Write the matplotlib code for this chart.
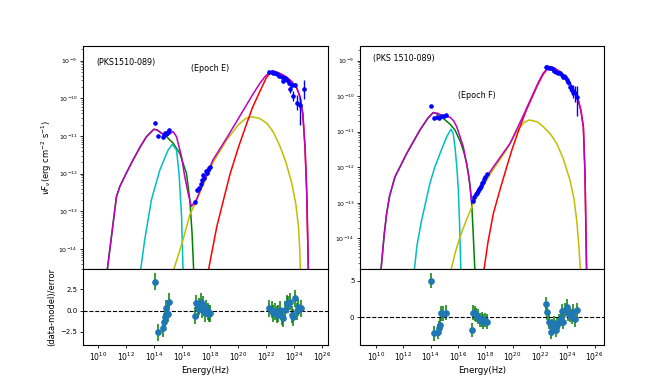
import numpy as np
import matplotlib
matplotlib.use("Agg")
import matplotlib.pyplot as plt
from matplotlib.ticker import NullLocator, LogLocator


####    dane: epoka E (lewy panel), log10 nu [Hz], log10 nuFnu    ####
magE_x = [10.62, 11.29, 11.53, 12.0, 12.48, 13.0, 13.43, 13.96, 14.2, 14.5, 14.98, 15.34, 15.58,
          15.94, 16.17, 16.41, 16.64, 17.0, 17.48, 18.19, 19.17, 20.36, 21.07, 21.5, 21.9, 22.26,
          22.5, 22.8, 23.1, 23.46, 23.8, 24.17, 24.4, 24.6, 24.76, 24.88, 25.0]
magE_y = [-14.6, -12.61, -12.34, -11.98, -11.63, -11.28, -11.02, -10.82, -10.84, -10.93, -10.97,
          -10.88, -11.02, -11.55, -12.08, -12.52, -12.87, -12.69, -12.25, -11.63, -11.05, -10.31,
          -9.87, -9.62, -9.42, -9.30, -9.27, -9.31, -9.36, -9.44, -9.55, -9.72, -9.95, -10.4,
          -11.3, -12.5, -14.6]
grnE_x = [10.62, 11.29, 11.53, 12.0, 12.48, 13.0, 13.43, 13.96, 14.2, 14.5, 14.74, 15.34, 15.81,
          16.29, 16.53, 16.69, 16.81]
grnE_y = [-14.6, -12.61, -12.34, -11.98, -11.63, -11.28, -11.02, -10.82, -10.84, -10.92, -10.97,
          -11.19, -11.46, -11.99, -12.69, -13.58, -14.6]
cyaE_x = [13.0, 13.31, 13.79, 14.39, 14.98, 15.29, 15.58, 15.76, 15.94, 16.05]
cyaE_y = [-14.6, -13.75, -12.69, -11.90, -11.37, -11.22, -11.37, -11.99, -13.13, -14.6]
yelE_x = [15.34, 16.05, 16.53, 17.0, 17.48, 18.19, 19.17, 20.0, 20.5, 20.96, 21.5, 22.03, 22.5,
          22.98, 23.4, 23.81, 24.1, 24.29, 24.38, 24.43]
yelE_y = [-14.6, -13.75, -13.09, -12.72, -12.3, -11.7, -11.1, -10.7, -10.54, -10.49, -10.53,
          -10.66, -10.9, -11.28, -11.7, -12.25, -12.8, -13.4, -14.0, -14.6]
redE_x = [17.84, 18.46, 19.0, 19.41, 20.0, 20.6, 21.0, 21.55, 22.0, 22.26, 22.5, 22.8, 23.1,
          23.46, 23.8, 24.17, 24.4, 24.6, 24.76, 24.88, 25.0]
redE_y = [-14.6, -13.40, -12.6, -12.0, -11.3, -10.66, -10.25, -9.8, -9.45, -9.33, -9.29, -9.32,
          -9.37, -9.45, -9.56, -9.73, -9.96, -10.41, -11.31, -12.5, -14.6]

# punkty pomiarowe E
datE_x = [14.05, 14.29, 14.6, 14.69, 14.76, 14.84, 14.88, 15.0, 15.07,
          16.91, 17.07, 17.21, 17.31, 17.43, 17.50, 17.57, 17.67, 17.74, 17.81, 17.91, 17.98,
          22.21, 22.39, 22.5, 22.62, 22.79, 22.93, 23.1, 23.21, 23.34, 23.46, 23.58, 23.69,
          23.81, 23.93, 24.05, 24.17, 24.41, 24.69]
datE_y = [-10.66, -11.0, -11.02, -10.97, -10.93, -10.95, -10.91, -10.90, -10.84,
          -12.76, -12.43, -12.38, -12.27, -12.16, -12.03, -12.12, -11.94, -11.99, -11.90, -11.85, -11.81,
          -9.31, -9.30, -9.32, -9.33, -9.36, -9.40, -9.42, -9.53, -9.47, -9.51, -9.58, -9.76,
          -9.64, -9.94, -9.64, -10.11, -10.18, -9.76]
errE_lo = [0.0] * 9 + [0.05] * 12 + [0.03] * 10 + [0.06, 0.1, 0.06, 0.13, 0.06, 0.2, 0.53, 0.25]
errE_hi = [0.0] * 9 + [0.05] * 12 + [0.03] * 10 + [0.06, 0.1, 0.06, 0.13, 0.06, 0.2, 0.22, 0.25]

# residua E
resE_x = [14.05, 14.29, 14.6, 14.69, 14.76, 14.84, 14.88, 15.0, 15.07,
          16.91, 17.0, 17.1, 17.2, 17.3, 17.4, 17.5, 17.6, 17.7, 17.8, 17.9, 18.0,
          22.21, 22.38, 22.5, 22.62, 22.74, 22.86, 22.98, 23.1, 23.21, 23.33, 23.45, 23.57,
          23.69, 23.81, 23.93, 24.05, 24.17, 24.29, 24.48]
resE_y = [3.42, -2.55, -2.08, -1.30, -0.78, 0.28, -0.31, -0.40, 1.06,
          -0.63, 0.87, 0.16, 0.47, 1.06, 0.08, 0.67, -0.31, 0.28, -0.12, -0.39, -0.31,
          0.28, 0.08, -0.3, -0.12, -0.5, -0.3, 0.1, -0.7, -0.9, 0.1, 0.87, 0.7,
          1.06, -0.5, -0.8, 1.45, -0.1, 0.4, 0.28]

####    dane: epoka F (prawy panel)    ####
magF_x = [10.34, 10.6, 10.78, 11.0, 11.39, 12.25, 13.22, 13.8, 14.19, 14.5, 14.93, 15.42, 15.7,
          15.91, 16.39, 16.76, 16.9, 17.0, 17.2, 17.61, 18.59, 19.81, 20.78, 21.52, 21.9, 22.25,
          22.55, 22.79, 23.1, 23.47, 23.85, 24.2, 24.55, 24.81, 25.0, 25.18, 25.30, 25.42]
magF_y = [-15.0, -13.9, -13.3, -12.8, -12.27, -11.61, -10.95, -10.62, -10.46, -10.48, -10.56,
          -10.59, -10.7, -10.86, -11.42, -12.17, -12.6, -13.0, -12.8, -12.55, -11.99, -11.33,
          -10.55, -9.92, -9.6, -9.35, -9.22, -9.17, -9.22, -9.31, -9.46, -9.64, -9.88, -10.11,
          -10.4, -10.86, -12.17, -15.0]
grnF_x = [10.34, 10.6, 10.78, 11.0, 11.39, 12.25, 13.22, 13.8, 14.19, 14.6, 15.0, 15.4, 15.78,
          16.2, 16.45, 16.64, 16.85, 17.0, 17.12, 17.25]
grnF_y = [-15.0, -13.9, -13.3, -12.8, -12.27, -11.61, -10.95, -10.62, -10.46, -10.52, -10.65,
          -10.78, -10.95, -11.3, -11.6, -11.89, -12.4, -12.95, -13.9, -15.0]
cyaF_x = [12.78, 13.0, 13.34, 13.95, 14.3, 14.69, 15.18, 15.49, 15.65, 15.78, 15.92, 16.03, 16.12, 16.22]
cyaF_y = [-15.0, -14.2, -13.49, -12.45, -12.0, -11.61, -11.14, -10.93, -11.05, -11.42, -12.0,
          -12.64, -13.6, -15.0]
yelF_x = [15.42, 15.8, 16.15, 16.6, 17.12, 18.35, 19.57, 20.3, 20.8, 21.22, 21.8, 22.25, 22.8,
          23.23, 23.7, 24.2, 24.5, 24.69, 24.85, 24.98]
yelF_y = [-15.0, -14.4, -13.96, -13.5, -13.02, -12.2, -11.5, -11.0, -10.75, -10.67, -10.72,
          -10.86, -11.08, -11.33, -11.75, -12.36, -12.9, -13.49, -14.2, -15.0]
redF_x = [17.86, 18.2, 18.59, 19.1, 19.57, 20.0, 20.54, 21.0, 21.52, 21.9, 22.25, 22.5, 22.79,
          23.1, 23.47, 23.85, 24.2, 24.55, 24.81, 25.0, 25.18, 25.30, 25.42]
redF_y = [-15.0, -14.1, -13.30, -12.6, -11.99, -11.45, -10.86, -10.4, -9.95, -9.63, -9.38,
          -9.26, -9.18, -9.23, -9.32, -9.47, -9.65, -9.89, -10.12, -10.41, -10.87, -12.18, -15.0]

datF_x = [14.03, 14.27, 14.44, 14.61, 14.81, 14.98, 15.12,
          17.08, 17.2, 17.3, 17.39, 17.49, 17.56, 17.64, 17.71, 17.78, 17.86, 17.93, 18.0, 18.10,
          22.42, 22.54, 22.69, 22.81, 22.94, 23.05, 23.18, 23.3, 23.47, 23.59, 23.71, 23.84,
          23.96, 24.08, 24.2, 24.33, 24.44, 24.57, 24.69]
datF_y = [-10.28, -10.61, -10.58, -10.62, -10.56, -10.55, -10.54,
          -12.95, -12.83, -12.75, -12.72, -12.66, -12.61, -12.58, -12.53, -12.45, -12.41, -12.34,
          -12.27, -12.20,
          -9.19, -9.19, -9.20, -9.21, -9.24, -9.28, -9.31, -9.34, -9.36, -9.40, -9.47, -9.45,
          -9.54, -9.59, -9.73, -9.83, -9.87, -9.92, -10.01]
errF_lo = [0.0] * 7 + [0.04] * 13 + [0.03] * 10 + [0.05, 0.06, 0.08, 0.1, 0.12, 0.15, 0.18, 0.25, 0.55]
errF_hi = [0.0] * 7 + [0.04] * 13 + [0.03] * 10 + [0.05, 0.06, 0.08, 0.1, 0.12, 0.15, 0.18, 0.2, 0.3]

resF_x = [14.03, 14.27, 14.51, 14.6, 14.66, 14.76, 14.93, 15.1,
          17.05, 17.1, 17.22, 17.34, 17.49, 17.61, 17.74, 17.86, 17.98, 18.10,
          22.42, 22.54, 22.66, 22.79, 22.91, 23.03, 23.15, 23.27, 23.40, 23.52, 23.59, 23.71,
          23.84, 23.96, 24.08, 24.2, 24.33, 24.44, 24.57, 24.69]
resF_y = [4.99, -2.18, -1.96, -1.5, -1.05, 0.54, 0.5, 0.63,
          -1.73, 0.63, 0.54, 0.31, 0.09, -0.37, -0.28, -0.59, -0.37, -0.59,
          1.81, 0.68, -0.59, -1.96, -1.28, -0.82, -1.73, -1.05, -0.59, -0.14, 0.86, -0.59,
          1.0, 1.45, 0.54, 0.31, 0.09, 0.77, -0.28, 1.0]

xticks = [1e10, 1e12, 1e14, 1e16, 1e18, 1e20, 1e22, 1e24, 1e26]


def p(v):
    return 10 ** np.asarray(v, dtype=float)


def panel(ax, axr, curves, dx, dy, elo, ehi, rx, ry, xlim, ylim, rlim, rticks, texts, left):
    """Rysuje panel SED + residua"""
    for cx, cy, col in curves:
        ax.plot(p(cx), p(cy), color=col, lw=1.1)
    F = p(dy)
    lo = F - p(np.asarray(dy) - np.asarray(elo))
    hi = p(np.asarray(dy) + np.asarray(ehi)) - F
    ax.errorbar(p(dx), F, yerr=[lo, hi], fmt='o', color='b', ms=2.3, elinewidth=1, zorder=5)
    ax.set_xscale('log')
    ax.set_yscale('log')
    ax.set_xlim(10 ** xlim[0], 10 ** xlim[1])
    ax.set_ylim(10 ** ylim[0], 10 ** ylim[1])
    ax.yaxis.set_major_locator(LogLocator(base=10, numticks=20))
    ax.yaxis.set_minor_locator(LogLocator(base=10, subs=np.arange(2, 10), numticks=20))
    ax.tick_params(axis='x', which='both', bottom=False, labelbottom=False)
    ax.tick_params(axis='y', which='major', labelsize=4.5, length=2.5, width=0.6, pad=1.5)
    ax.tick_params(axis='y', which='minor', length=1.3, width=0.4)
    for t, tx, ty in texts:
        ax.text(tx, ty, t, transform=ax.transAxes, fontsize=5.8, va='center')

    axr.errorbar(p(rx), ry, yerr=1.0, fmt='o', color='C0', ecolor='g', ms=3.8, elinewidth=1.1)
    axr.axhline(0, color='k', ls='--', lw=0.8)
    axr.set_xscale('log')
    axr.set_xlim(10 ** xlim[0], 10 ** xlim[1])
    axr.set_ylim(*rlim)
    axr.set_yticks(rticks)
    axr.set_xticks(xticks)
    axr.xaxis.set_minor_locator(NullLocator())
    axr.tick_params(axis='x', labelsize=5.5, length=2.5, width=0.6, pad=2)
    axr.tick_params(axis='y', labelsize=5, length=2.5, width=0.6, pad=1.5)
    axr.set_xlabel('Energy(Hz)', fontsize=6.2, labelpad=2)
    if left:
        ax.set_ylabel(r'$\nu F_{\nu}$(erg cm$^{-2}$ s$^{-1}$)', fontsize=6, labelpad=3)
        axr.set_ylabel('(data-model)/error', fontsize=6, labelpad=3)
    for a in (ax, axr):
        for s in a.spines.values():
            s.set_linewidth(0.8)


fig = plt.figure(figsize=(6.72, 3.87), dpi=100)
axE = fig.add_axes([0.1235, 0.3049, 0.3646, 0.5762])
axEr = fig.add_axes([0.1235, 0.1098, 0.3646, 0.1951])
axF = fig.add_axes([0.5357, 0.3049, 0.3631, 0.5762])
axFr = fig.add_axes([0.5357, 0.1098, 0.3631, 0.1951])

panel(axE, axEr,
      [(grnE_x, grnE_y, 'g'), (cyaE_x, cyaE_y, 'c'), (yelE_x, yelE_y, 'y'),
       (redE_x, redE_y, 'r'), (magE_x, magE_y, 'm')],
      datE_x, datE_y, errE_lo, errE_hi, resE_x, resE_y,
      (8.9, 26.4), (-14.53, -8.61), (-4.0, 4.9), [-2.5, 0.0, 2.5],
      [('(PKS1510-089)', 0.056, 0.924), ('(Epoch E)', 0.44, 0.897)], True)

panel(axF, axFr,
      [(grnF_x, grnF_y, 'g'), (cyaF_x, cyaF_y, 'c'), (yelF_x, yelF_y, 'y'),
       (redF_x, redF_y, 'r'), (magF_x, magF_y, 'm')],
      datF_x, datF_y, errF_lo, errF_hi, resF_x, resF_y,
      (8.83, 26.69), (-14.86, -8.59), (-3.7, 6.6), [0, 5],
      [('(PKS 1510-089)', 0.055, 0.945), ('(Epoch F)', 0.40, 0.777)], False)

fig.savefig('out.png', dpi=100)
